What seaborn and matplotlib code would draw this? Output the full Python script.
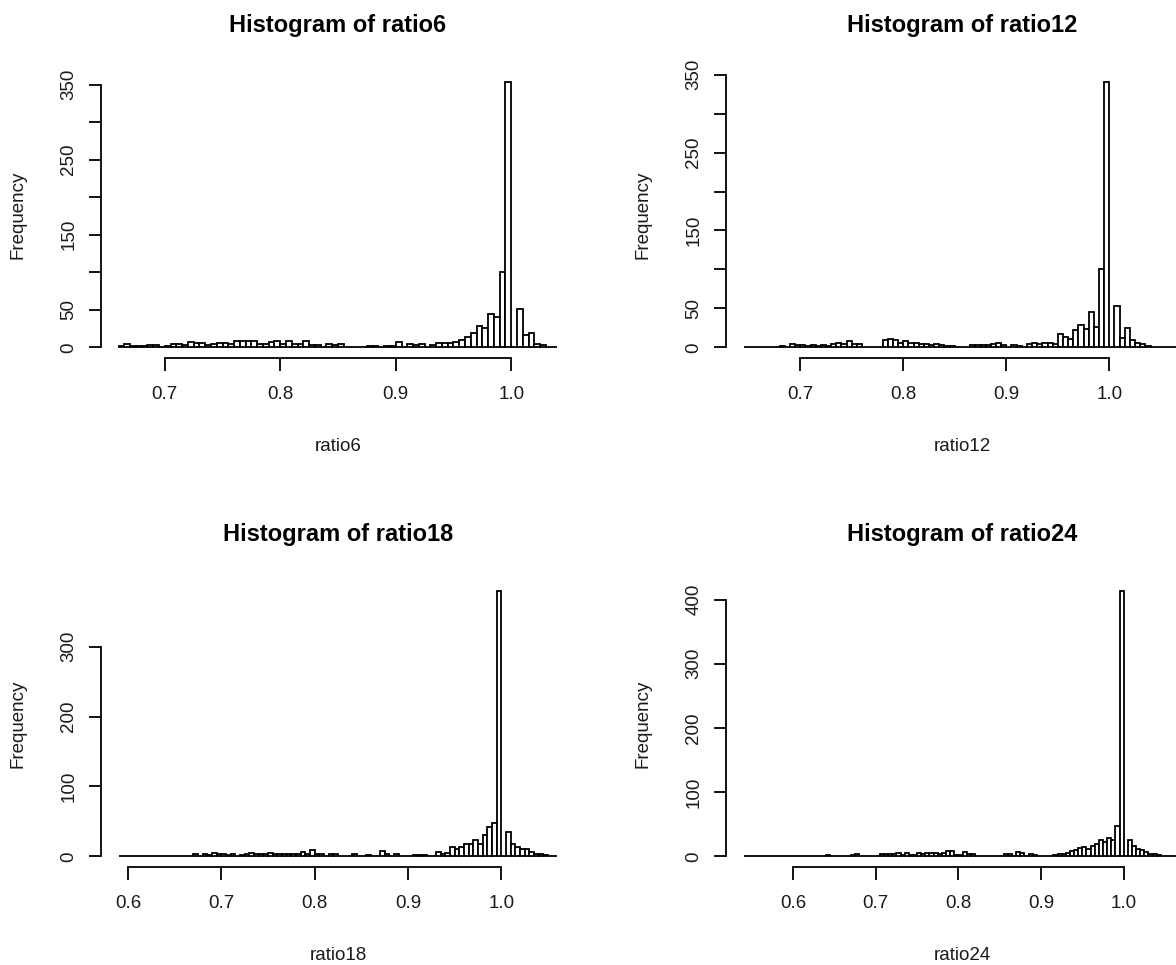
import numpy as np
import pandas as pd
import matplotlib.pyplot as plt
import seaborn as sns

# bin counts, bin width 0.005
bin_width = 0.005

ratio6_start = 0.66
ratio6_counts = [2, 4, 2, 2, 2, 3, 3, 1, 2, 5,
                 5, 3, 7, 6, 6, 3, 4, 6, 6, 4,
                 8, 8, 9, 9, 4, 5, 7, 9, 5, 8,
                 5, 5, 9, 3, 3, 1, 4, 3, 4, 1,
                 1, 1, 1, 2, 2, 1, 2, 2, 7, 1,
                 5, 3, 5, 1, 3, 6, 6, 6, 7, 10,
                 14, 19, 28, 26, 45, 40, 101, 354, 0, 51,
                 16, 19, 4, 3, 1, 1]

ratio12_start = 0.645
ratio12_counts = [1, 0, 1, 0, 1, 1, 0, 2, 1, 4,
                  3, 3, 2, 3, 2, 3, 2, 4, 5, 4,
                  8, 4, 4, 1, 1, 1, 1, 10, 11, 9,
                  5, 8, 5, 6, 4, 4, 3, 4, 3, 2,
                  2, 1, 1, 1, 3, 3, 3, 3, 4, 6,
                  3, 1, 3, 2, 1, 4, 6, 4, 6, 6,
                  4, 17, 13, 11, 22, 29, 24, 45, 26, 100,
                  341, 0, 53, 12, 25, 10, 6, 4, 2, 0,
                  1, 0, 0, 0, 0]

ratio18_start = 0.59
ratio18_counts = [0, 0, 0, 0, 0, 0, 0, 0, 0, 0,
                  0, 0, 1, 1, 0, 0, 3, 1, 3, 2,
                  5, 3, 3, 2, 3, 1, 2, 3, 5, 3,
                  3, 4, 5, 3, 3, 3, 3, 3, 3, 6,
                  3, 9, 4, 3, 1, 3, 3, 1, 1, 1,
                  3, 1, 0, 2, 1, 1, 7, 3, 1, 3,
                  1, 1, 1, 2, 2, 2, 1, 1, 6, 3,
                  5, 14, 10, 14, 18, 18, 24, 18, 30, 42,
                  48, 380, 0, 35, 17, 13, 10, 10, 6, 4,
                  3, 2, 1, 1]

ratio24_start = 0.54
ratio24_counts = [0, 0, 0, 0, 0, 0, 0, 0, 0, 0,
                  0, 0, 0, 0, 0, 0, 0, 0, 0, 0,
                  2, 0, 0, 0, 1, 0, 2, 3, 1, 1,
                  1, 1, 1, 3, 3, 3, 3, 6, 2, 6,
                  2, 2, 5, 3, 6, 6, 6, 3, 6, 8,
                  8, 2, 2, 7, 3, 3, 1, 0, 1, 0,
                  1, 0, 1, 4, 3, 1, 7, 5, 1, 4,
                  2, 1, 0, 1, 1, 2, 3, 4, 6, 8,
                  10, 13, 14, 11, 16, 20, 25, 23, 29, 26,
                  47, 414, 0, 26, 16, 12, 10, 7, 4, 3,
                  2, 1, 1, 0, 0, 0]

panels = [
    ("ratio6", ratio6_start, ratio6_counts, [0.7, 0.8, 0.9, 1.0],
     [0, 50, 100, 150, 200, 250, 300, 350], [0, 50, 150, 250, 350]),
    ("ratio12", ratio12_start, ratio12_counts, [0.7, 0.8, 0.9, 1.0],
     [0, 50, 100, 150, 200, 250, 300, 350], [0, 50, 150, 250, 350]),
    ("ratio18", ratio18_start, ratio18_counts, [0.6, 0.7, 0.8, 0.9, 1.0],
     [0, 100, 200, 300], [0, 100, 200, 300]),
    ("ratio24", ratio24_start, ratio24_counts, [0.6, 0.7, 0.8, 0.9, 1.0],
     [0, 100, 200, 300, 400], [0, 100, 200, 300, 400]),
]

sns.set_theme(style="white")
plt.rcParams['font.family'] = ['Liberation Sans', 'DejaVu Sans']

W, H = 1176, 965
fig = plt.figure(figsize=(W / 100, H / 100), dpi=100)

# plot regions in pixels (left, right, top, bottom)
boxes = [(101, 575, 71, 358), (726, 1199, 71, 358),
         (101, 575, 580, 867), (726, 1199, 580, 867)]

txt = "#1a1a1a"
for (name, start, counts, xt, yt, ylab), (l, r, t, b) in zip(panels, boxes):
    ax = fig.add_axes([l / W, (H - b) / H, (r - l) / W, (b - t) / H])
    counts = np.array(counts, dtype=float)
    n = len(counts)
    edges = start + bin_width * np.arange(n + 1)
    df = pd.DataFrame({"x": edges[:-1] + bin_width / 2, "w": counts})
    sns.histplot(data=df, x="x", weights="w", bins=list(edges), ax=ax,
                 color="white", edgecolor="black", linewidth=1.3, alpha=1)

    rng = edges[-1] - edges[0]
    ax.set_xlim(edges[0] - 0.04 * rng, edges[-1] + 0.04 * rng)
    top = counts.max()
    ax.set_ylim(-0.04 * top, 1.04 * top)

    for s in ["top", "right"]:
        ax.spines[s].set_visible(False)
    ax.spines["bottom"].set_bounds(xt[0], xt[-1])
    ax.spines["left"].set_bounds(yt[0], yt[-1])
    for s in ["bottom", "left"]:
        ax.spines[s].set_color("black")
        ax.spines[s].set_linewidth(1.3)

    ax.set_xticks(xt)
    ax.set_xticklabels([f"{v:.1f}" for v in xt])
    ax.set_yticks(yt)
    ax.set_yticklabels([str(v) if v in ylab else "" for v in yt])
    ax.tick_params(axis="both", direction="out", length=9, width=1.3,
                   color="black", labelsize=13.5, labelcolor=txt,
                   bottom=True, left=True)
    ax.tick_params(axis="x", pad=11)
    ax.tick_params(axis="y", labelrotation=90, pad=8)
    for lbl in ax.get_yticklabels():
        lbl.set_va("center")

    ax.set_xlabel("")
    ax.set_ylabel("")
    ax.grid(False)
    ax.text(0.5, -0.324, name, transform=ax.transAxes, ha="center",
            va="baseline", fontsize=13.5, color=txt)
    ax.text(-0.175, 0.5, "Frequency", transform=ax.transAxes, ha="center",
            va="center", rotation=90, fontsize=13.5, color=txt)
    ax.text(0.5, 1.137, f"Histogram of {name}", transform=ax.transAxes,
            ha="center", va="baseline", fontsize=17, fontweight="bold",
            color="black")

fig.savefig("out.png", dpi=100)
